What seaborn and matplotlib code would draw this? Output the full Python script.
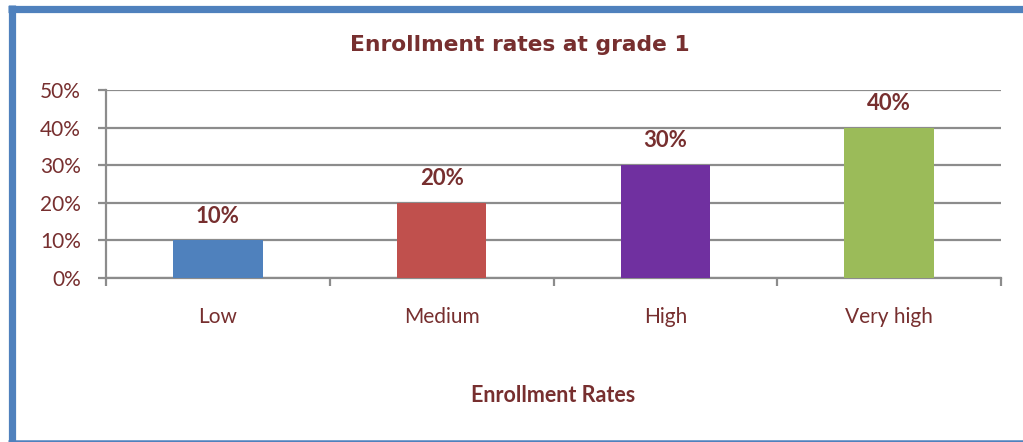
import matplotlib
matplotlib.use("Agg")
import matplotlib.pyplot as plt
from matplotlib.lines import Line2D
from matplotlib.ticker import FuncFormatter, FixedLocator
import seaborn as sns
import pandas as pd

# Enrollment rate categories and their shares
categories = ["Low", "Medium", "High", "Very high"]
shares = [0.10, 0.20, 0.30, 0.40]
bar_colors = ["#4F81BD", "#C0504D", "#7030A0", "#9BBB59"]
y_ticks = [0.0, 0.1, 0.2, 0.3, 0.4, 0.5]

title = "Enrollment rates at grade 1"
x_title = "Enrollment Rates"

text_color = "#772F2F"
grid_color = "#8C8C8C"
frame_color = "#4F81BD"

sns.set_theme(style="white")
plt.rcParams["font.family"] = ["Lato", "DejaVu Sans"]

df = pd.DataFrame({"category": categories, "share": shares})

fig = plt.figure(figsize=(10.23, 4.42), dpi=100)
ax = fig.add_axes([106 / 1023, 1 - 278 / 442, (1001 - 106) / 1023, (278 - 90) / 442])

sns.barplot(data=df, x="category", y="share", hue="category",
            palette=bar_colors, width=0.4, saturation=1, legend=False, ax=ax,
            linewidth=0, zorder=3)

ax.set_xlim(-0.5, len(categories) - 0.5)
ax.set_ylim(0, 0.5)
ax.yaxis.set_major_locator(FixedLocator(y_ticks))
ax.yaxis.set_major_formatter(FuncFormatter(lambda v, _: f"{v:.0%}"))
ax.yaxis.grid(True, color=grid_color, linewidth=1.6, zorder=0)
ax.set_axisbelow(True)

for side in ("top", "right"):
    ax.spines[side].set_visible(False)
for side in ("left", "bottom"):
    ax.spines[side].set_color(grid_color)
    ax.spines[side].set_linewidth(1.6)

ax.tick_params(axis="y", which="major", direction="out", length=6, width=1.6,
               color=grid_color, labelsize=15, labelcolor=text_color, pad=12, left=True)
ax.tick_params(axis="x", which="major", length=0, labelsize=15,
               labelcolor=text_color, pad=21)
ax.set_xticks([i - 0.5 for i in range(len(categories) + 1)], minor=True)
ax.tick_params(axis="x", which="minor", direction="out", length=6, width=1.6,
               color=grid_color, bottom=True)

ax.set_xlabel(x_title, fontsize=15.5, fontweight="bold", color=text_color, labelpad=42)
ax.set_ylabel("")

# value labels above each bar
for i, v in enumerate(shares):
    ax.annotate(f"{v:.0%}", (i, v), xytext=(0, 10), textcoords="offset points",
                ha="center", va="bottom", fontsize=16, fontweight="bold", color=text_color)

fig.text(520 / 1023, 1 - 45 / 442, title, ha="center", va="center",
         fontsize=15.7, fontweight="bold", color=text_color, family="DejaVu Sans")

# chart frame: thick left and top edges, thin bottom edge
H, W = 442, 1023
fig.add_artist(Line2D([11.5 / W, 11.5 / W], [1 - 441 / H, 1 - 5 / H], transform=fig.transFigure,
                      color=frame_color, linewidth=5.2, solid_capstyle="butt"))
fig.add_artist(Line2D([8 / W, 1.0], [1 - 8.5 / H, 1 - 8.5 / H], transform=fig.transFigure,
                      color=frame_color, linewidth=5.2, solid_capstyle="butt"))
fig.add_artist(Line2D([8 / W, 1.0], [1 - 440.5 / H, 1 - 440.5 / H], transform=fig.transFigure,
                      color=frame_color, linewidth=1.8, solid_capstyle="butt"))

fig.savefig("out.png", dpi=100)
